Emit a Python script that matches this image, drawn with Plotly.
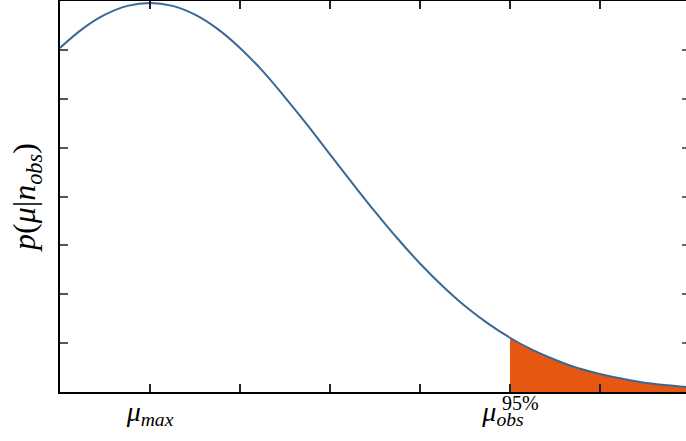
import plotly.graph_objects as go

# values (x in tick units, y in tick units)
mu = [0.0, 0.25, 0.5, 0.75, 1.0, 1.25, 1.5, 1.75, 2.0, 2.25, 2.5, 2.75, 3.0, 3.25,
      3.5, 3.75, 4.0, 4.25, 4.5, 4.75, 5.0, 5.25, 5.5, 5.75, 6.0, 6.25, 6.5, 6.75, 6.96]
density = [7.04, 7.43, 7.72, 7.90, 7.96, 7.90, 7.72, 7.43, 7.04, 6.57, 6.03, 5.46, 4.86, 4.27,
           3.69, 3.14, 2.63, 2.17, 1.76, 1.41, 1.11, 0.86, 0.66, 0.49, 0.37, 0.27, 0.19, 0.136, 0.10]
mu_95 = 5.0
x_ticks = [1, 2, 3, 4, 5, 6]
x_ticktext = ["<i>μ</i><sub><i>max</i></sub>", "", "", "",
              "<i>μ</i><sub><i>obs</i></sub>&nbsp;&nbsp;", ""]
y_ticks = [1, 2, 3, 4, 5, 6, 7]

tail_x = [m for m in mu if m >= mu_95]
tail_y = [d for m, d in zip(mu, density) if m >= mu_95]

LINE = "rgb(58,104,148)"
FILL = "rgb(230,87,18)"
SERIF = "Liberation Serif, DejaVu Serif, serif"

fig = go.Figure()
fig.add_trace(go.Scatter(x=tail_x, y=tail_y, fill="tozeroy", mode="lines",
                         line=dict(width=0, color=FILL, shape="spline"),
                         fillcolor=FILL, hoverinfo="skip", showlegend=False))
fig.add_trace(go.Scatter(x=mu, y=density, mode="lines",
                         line=dict(width=2, color=LINE, shape="spline"),
                         showlegend=False))
# invisible trace to activate right-side tick axis
fig.add_trace(go.Scatter(x=[mu[0]], y=[density[0]], yaxis="y2", mode="markers",
                         marker=dict(opacity=0), showlegend=False, hoverinfo="skip"))

fig.update_layout(
    width=686, height=441,
    margin=dict(l=60, r=0, t=1, b=49),
    paper_bgcolor="white", plot_bgcolor="white",
    xaxis=dict(range=[0, 6.956], tickvals=x_ticks, ticktext=x_ticktext, automargin=False,
               ticks="inside", ticklen=8, tickwidth=1.5, tickcolor="#222",
               showline=True, linecolor="black", linewidth=2, mirror="ticks",
               showgrid=False, zeroline=False, ticklabelstandoff=-7,
               tickfont=dict(family=SERIF, size=28, color="black")),
    yaxis=dict(range=[0, 8], tickvals=y_ticks, showticklabels=False, automargin=False,
               ticks="inside", ticklen=8, tickwidth=1.5, tickcolor="#555",
               showline=True, linecolor="black", linewidth=2,
               showgrid=False, zeroline=False,
               title=dict(text="<i>p</i>(<i>μ</i>|<i>n</i><sub><i>obs</i></sub>)",
                          font=dict(family=SERIF, size=32, color="black"), standoff=13)),
    yaxis2=dict(range=[0, 8], tickvals=y_ticks, showticklabels=False, overlaying="y",
                side="right", ticks="inside", ticklen=4, tickwidth=1.5, tickcolor="#666",
                showline=False, showgrid=False, zeroline=False, automargin=False),
    annotations=[dict(x=mu_95, xref="x", y=-0.028, yref="paper", text="95%",
                      showarrow=False, xanchor="left", yanchor="middle", xshift=-10,
                      font=dict(family=SERIF, size=20, color="black"))],
)

fig.write_html("out.html", config={"displayModeBar": False},
               post_script="document.body.style.margin='0';")
